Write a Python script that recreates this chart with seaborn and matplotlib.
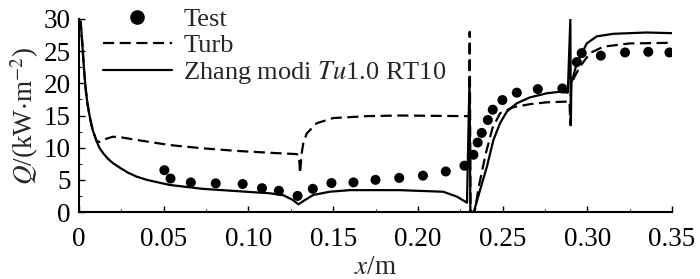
import matplotlib
matplotlib.use("Agg")
import matplotlib.pyplot as plt
from matplotlib.lines import Line2D
from matplotlib.ticker import MultipleLocator, FuncFormatter
import seaborn as sns

# measured heat flux, Q in kW/m^2 along x in m
test_x = [0.0504, 0.054, 0.066, 0.0807, 0.0966, 0.108, 0.118, 0.129,
          0.138, 0.149, 0.162, 0.175, 0.189, 0.203, 0.2165, 0.2275,
          0.2328, 0.2353, 0.2377, 0.2413, 0.2442, 0.2499, 0.2584, 0.2708,
          0.2853, 0.2938, 0.2967, 0.308, 0.3223, 0.336, 0.3485]
test_q = [6.5, 5.2, 4.6, 4.45, 4.35, 3.7, 3.3, 2.5,
          3.6, 4.5, 4.6, 5.0, 5.3, 5.65, 6.3, 7.2,
          8.9, 10.8, 12.3, 14.3, 15.9, 17.4, 18.55, 19.1,
          19.2, 23.3, 24.7, 24.3, 24.8, 24.9, 24.8]

turb_x = [0, 0.001, 0.002, 0.003, 0.004, 0.005, 0.0065, 0.008, 0.0104,
          0.012, 0.015, 0.020, 0.025, 0.034,
          0.0537, 0.073, 0.093, 0.113, 0.1285, 0.1298, 0.1305, 0.1314,
          0.1324, 0.1344, 0.1403, 0.150, 0.170, 0.1895, 0.2278, 0.2302,
          0.2306, 0.2311, 0.2335, 0.236, 0.240, 0.244, 0.2485, 0.2564,
          0.266, 0.276, 0.2869, 0.2895, 0.2900, 0.2904, 0.292, 0.2957,
          0.3016, 0.3095, 0.325, 0.35]
turb_q = [30, 29.5, 26, 22, 19, 16.8, 14.6, 12.8, 11.0,
          10.9, 11.3, 11.7, 11.6, 11.2,
          10.4, 9.9, 9.5, 9.2, 9.0, 8.8, 6.0, 9.1,
          10.7, 12.2, 13.8, 14.6, 14.9, 15.0, 14.9, 14.9,
          28, 0, 0, 4, 9, 13, 15.35, 16.3,
          16.75, 17.05, 17.15, 17.2, 13.5, 19.5, 20.8, 22.6,
          24.7, 25.7, 26.2, 26.3]

zhang_x = [0, 0.001, 0.002, 0.003, 0.004, 0.005, 0.0065, 0.008, 0.0104,
           0.012, 0.0144, 0.017, 0.02, 0.024, 0.029, 0.034, 0.04,
           0.045, 0.0537, 0.073, 0.093, 0.113, 0.1206, 0.126, 0.1295,
           0.133, 0.1383, 0.148, 0.16, 0.189, 0.215, 0.223, 0.229, 0.2305,
           0.2310, 0.2330, 0.2367, 0.2407, 0.2446, 0.2485, 0.2525, 0.2584,
           0.266, 0.276, 0.284, 0.2885, 0.2900, 0.2903, 0.2906, 0.2938,
           0.2997, 0.3056, 0.3154, 0.335, 0.35]
zhang_q = [30, 29.5, 26, 22, 19, 16.8, 14.6, 12.8, 11.0,
           10.0, 9.1, 8.3, 7.6, 6.9, 6.1, 5.5, 5.0,
           4.7, 4.2, 3.6, 3.25, 2.9, 2.6, 1.9, 1.2,
           1.8, 2.65, 3.15, 3.4, 3.4, 3.15, 2.4, 1.45, 21,
           0, 0, 3.4, 7, 11.2, 13.8, 15.6, 16.9,
           17.8, 18.45, 18.7, 18.55, 30, 13.5, 20, 23.1,
           26.2, 27.3, 27.7, 27.9, 27.8]

x_ticks = [0, 0.05, 0.10, 0.15, 0.20, 0.25, 0.30, 0.35]
y_ticks = [0, 5, 10, 15, 20, 25, 30]

sns.set_theme(style="ticks")
plt.rcParams["font.family"] = ["Liberation Serif", "DejaVu Serif"]
plt.rcParams["mathtext.fontset"] = "stix"

fig = plt.figure(figsize=(7, 2.79), dpi=100)
ax = fig.add_axes([79 / 700, 1 - 212 / 279, 593 / 700, 193 / 279])

dash = (0, (5, 2.5))
sns.lineplot(x=turb_x, y=turb_q, sort=False, estimator=None, color="black",
             linewidth=1.6, linestyle=dash, ax=ax)
sns.lineplot(x=zhang_x, y=zhang_q, sort=False, estimator=None, color="black",
             linewidth=1.6, ax=ax)
sns.scatterplot(x=test_x, y=test_q, color="black", s=52, edgecolor="none",
                ax=ax, zorder=3)

ax.set_xlim(0, 0.35)
ax.set_ylim(0, 30)
ax.set_xticks(x_ticks)
ax.set_yticks(y_ticks)
ax.xaxis.set_major_formatter(FuncFormatter(lambda v, p: "0" if v == 0 else f"{v:.2f}"))
ax.xaxis.set_minor_locator(MultipleLocator(0.025))
ax.yaxis.set_minor_locator(MultipleLocator(2.5))
ax.tick_params(axis="both", which="major", direction="in", length=4, width=1,
               labelsize=19.5, color="black", labelcolor="black")
ax.tick_params(axis="x", which="major", pad=11)
ax.tick_params(axis="y", which="major", pad=6)
ax.tick_params(axis="both", which="minor", direction="in", length=2, width=0.8)
for side in ["top", "right"]:
    ax.spines[side].set_visible(False)
for side in ["left", "bottom"]:
    ax.spines[side].set_linewidth(1.5)
    ax.spines[side].set_color("black")

ax.set_xlabel(r"$x$/m", fontsize=19.5, labelpad=2)
ax.set_ylabel(r"$Q$/(kW$\cdot$m$^{-2}$)", fontsize=19.5, labelpad=2)

handles = [
    Line2D([], [], color="black", marker="o", linestyle="none", markersize=9.5),
    Line2D([], [], color="black", linewidth=1.6, linestyle=dash),
    Line2D([], [], color="black", linewidth=1.6),
]
labels = ["Test", "Turb", r"Zhang modi $Tu$1.0 RT10"]
fig.legend(handles, labels, loc="upper left", bbox_to_anchor=(103 / 700, 0.972),
           frameon=False, fontsize=19, borderpad=0, borderaxespad=0,
           handlelength=2.6, handletextpad=0.45, labelspacing=0.08, numpoints=1)

fig.savefig("out.png", dpi=100)
